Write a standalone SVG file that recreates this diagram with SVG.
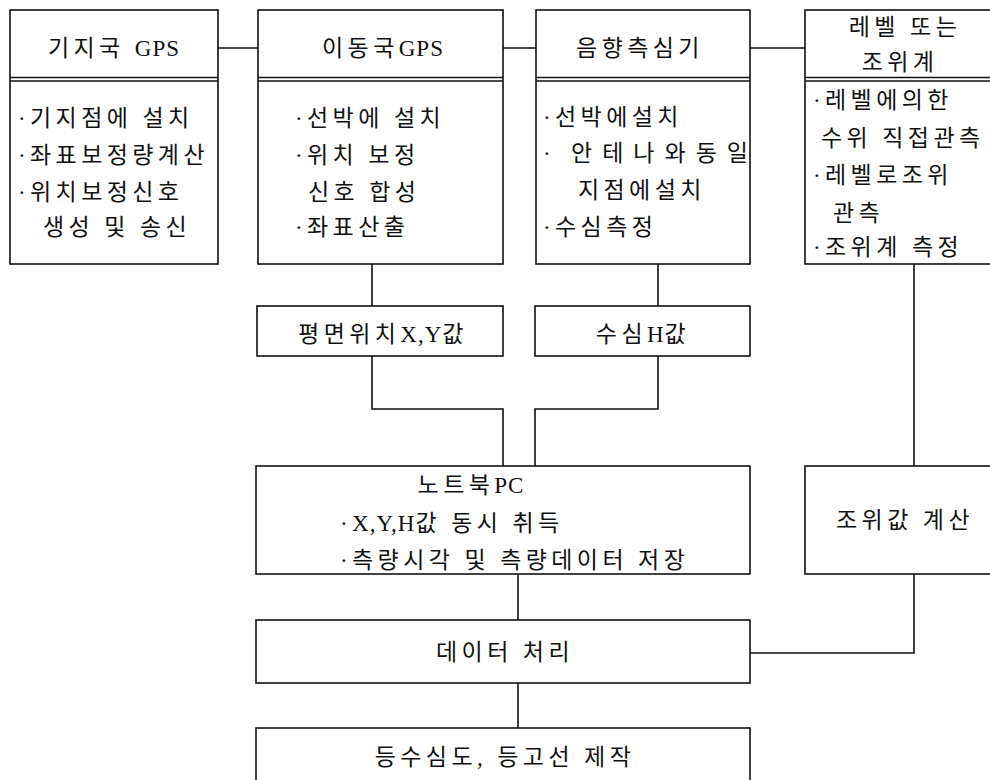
<svg xmlns="http://www.w3.org/2000/svg" width="990" height="780" viewBox="0 0 990 780">
<style>
.box{fill:#fff;stroke:#111;stroke-width:1.6}
.dbl{stroke:#111;stroke-width:1.5;fill:none}
.t{font-family:"Liberation Serif","Noto Sans CJK KR",serif;font-size:23px;fill:#111;letter-spacing:4.4px}
.c{text-anchor:middle}
.l{letter-spacing:1px}
.wire{fill:none;stroke:#111;stroke-width:1.6}
</style>
<rect width="990" height="780" fill="#fff"/>
<g id="connectors">
<path class="wire" d="M218 48H258M503 48H536M750 48H805"/>
<path class="wire" d="M372 264V306M658 264V306"/>
<path class="wire" d="M372 356V409H503V466M658 356V409H535V466"/>
<path class="wire" d="M914 264V466"/>
<path class="wire" d="M518 574V620M518 683V728"/>
<path class="wire" d="M914 574V653H750"/>
</g>
<g id="base-gps">
<rect class="box" x="10" y="10" width="208" height="254"/>
<path class="dbl" d="M10 77.5H218M10 81H218"/>
<text class="t c" x="114" y="56">기지국 <tspan class="l">GPS</tspan></text>
<text class="t" x="18" y="126">·기지점에 설치</text>
<text class="t" x="18" y="163">·좌표보정량계산</text>
<text class="t" x="18" y="200">·위치보정신호</text>
<text class="t" x="43" y="235">생성 및 송신</text>
</g>
<g id="rover-gps">
<rect class="box" x="258" y="10" width="245" height="254"/>
<path class="dbl" d="M258 77.5H503M258 81H503"/>
<text class="t c" x="383" y="56">이동국<tspan class="l">GPS</tspan></text>
<text class="t" x="295" y="126">·선박에 설치</text>
<text class="t" x="295" y="163">·위치 보정</text>
<text class="t" x="308" y="200">신호 합성</text>
<text class="t" x="295" y="235">·좌표산출</text>
</g>
<g id="echo-sounder">
<rect class="box" x="536" y="10" width="214" height="254"/>
<path class="dbl" d="M536 77.5H750M536 81H750"/>
<text class="t c" x="640" y="56">음향측심기</text>
<text class="t" x="543" y="125">·선박에설치</text>
<text class="t" x="543" y="161">·<tspan x="571" style="letter-spacing:10px">안테나와동일</tspan></text>
<text class="t" x="578" y="198">지점에설치</text>
<text class="t" x="543" y="235">·수심측정</text>
</g>
<g id="level-tide">
<rect class="box" x="805" y="10" width="195" height="254"/>
<path class="dbl" d="M805 77.5H995M805 81H995"/>
<text class="t c" x="905" y="35">레벨 또는</text>
<text class="t c" x="900" y="70">조위계</text>
<text class="t" x="813" y="108">·레벨에의한</text>
<text class="t" x="821" y="146">수위 직접관측</text>
<text class="t" x="813" y="183">·레벨로조위</text>
<text class="t" x="833" y="221">관측</text>
<text class="t" x="813" y="255">·조위계 측정</text>
</g>
<g id="xy-value">
<rect class="box" x="257" y="306" width="246" height="50"/>
<text class="t c" x="383" y="342">평면위치<tspan class="l">X,Y</tspan>값</text>
</g>
<g id="h-value">
<rect class="box" x="535" y="306" width="215" height="50"/>
<text class="t c" x="643" y="342">수심<tspan class="l">H</tspan>값</text>
</g>
<g id="notebook">
<rect class="box" x="256" y="466" width="494" height="108"/>
<text class="t c" x="471" y="493">노트북<tspan class="l">PC</tspan></text>
<text class="t" x="340" y="531">·<tspan class="l">X,Y,H</tspan>값 동시 취득</text>
<text class="t" x="340" y="568">·측량시각 및 측량데이터 저장</text>
</g>
<g id="tide-calc">
<rect class="box" x="805" y="466" width="195" height="108"/>
<text class="t c" x="905" y="528">조위값 계산</text>
</g>
<g id="data-proc">
<rect class="box" x="256" y="620" width="494" height="63"/>
<text class="t c" x="505" y="660">데이터 처리</text>
</g>
<g id="output">
<rect class="box" x="256" y="728" width="494" height="70"/>
<text class="t c" x="505" y="765">등수심도, 등고선 제작</text>
</g>
</svg>
